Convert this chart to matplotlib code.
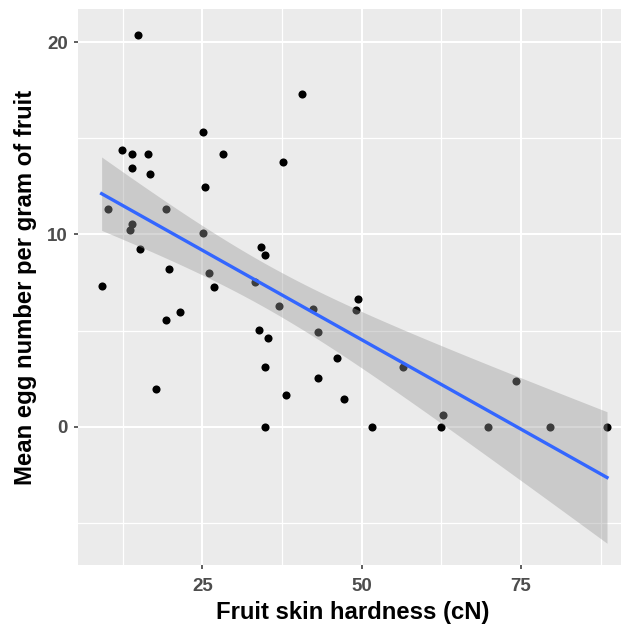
import matplotlib

matplotlib.use("Agg")
import matplotlib.pyplot as plt
import numpy as np
from matplotlib.ticker import FixedLocator

# Fruit skin hardness (cN) and mean egg number per gram of fruit
hardness = [
    14.96, 40.6, 25.06, 12.35, 13.92, 16.53, 28.2, 37.7, 13.92, 16.8,
    25.4, 10.2, 19.3, 13.9, 13.65, 25.06, 15.2, 34.2, 34.9, 19.7,
    26.0, 9.2, 26.9, 33.3, 49.5, 19.3, 21.5, 37.1, 42.3, 49.1,
    43.1, 33.9, 35.3, 34.9, 46.2, 43.1, 38.1, 47.2, 17.7, 34.9,
    51.7, 56.5, 62.4, 62.8, 69.8, 74.2, 79.6, 88.5,
]
eggs = [
    20.38, 17.31, 15.32, 14.40, 14.19, 14.19, 14.19, 13.76, 13.44, 13.13,
    12.49, 11.34, 11.34, 10.55, 10.23, 10.09, 9.23, 9.37, 8.92, 8.22,
    7.98, 7.34, 7.25, 7.55, 6.65, 5.55, 5.98, 6.30, 6.11, 6.09,
    4.94, 5.03, 4.60, 3.12, 3.56, 2.52, 1.65, 1.46, 1.98, 0.0,
    0.0, 3.09, 0.0, 0.61, 0.0, 2.39, 0.0, 0.0,
]

x_major = [25, 50, 75]
x_minor = [12.5, 37.5, 62.5, 87.5]
y_major = [0, 10, 20]
y_minor = [-5, 5, 15]

plt.rcParams["font.family"] = ["Liberation Sans", "DejaVu Sans"]

x = np.asarray(hardness)
y = np.asarray(eggs)

# linear fit with 95% confidence band (like geom_smooth(method = "lm"))
n = len(x)
slope, intercept = np.polyfit(x, y, 1)
resid = y - (intercept + slope * x)
s = np.sqrt(np.sum(resid**2) / (n - 2))
t_crit = 2.013  # t(0.975, df = 46)
xs = np.linspace(x.min(), x.max(), 80)
fit = intercept + slope * xs
se = s * np.sqrt(1 / n + (xs - x.mean()) ** 2 / np.sum((x - x.mean()) ** 2))

fig = plt.figure(figsize=(6.21, 6.28), dpi=100)
ax = fig.add_axes([0.1261, 0.1003, 0.8852, 0.8854])
ax.set_facecolor("#EBEBEB")

ax.scatter(x, y, s=34, color="black", linewidths=0, zorder=3)
ax.fill_between(xs, fit - t_crit * se, fit + t_crit * se,
                color="#999999", alpha=0.4, linewidth=0, zorder=4)
ax.plot(xs, fit, color="#3366FF", linewidth=2.4, zorder=5)

ax.set_xlim(5.54, 91.8)
ax.set_ylim(-7.2, 21.73)
ax.xaxis.set_major_locator(FixedLocator(x_major))
ax.xaxis.set_minor_locator(FixedLocator(x_minor))
ax.yaxis.set_major_locator(FixedLocator(y_major))
ax.yaxis.set_minor_locator(FixedLocator(y_minor))

ax.grid(which="major", color="white", linewidth=1.5, zorder=0)
ax.grid(which="minor", color="white", linewidth=0.9, zorder=0)
ax.set_axisbelow(True)
for sp in ax.spines.values():
    sp.set_visible(False)

ax.tick_params(which="major", length=3, width=1.1, color="#333333",
               labelsize=13.5, labelcolor="#4D4D4D")
ax.tick_params(axis="x", which="major", pad=6.4)
ax.tick_params(axis="y", which="major", pad=4.4)
ax.tick_params(which="minor", length=0)
for lab in ax.get_xticklabels() + ax.get_yticklabels():
    lab.set_fontweight("bold")

ax.set_xlabel("Fruit skin hardness (cN)", fontsize=17.2, fontweight="bold", labelpad=4)
ax.set_ylabel("Mean egg number per gram of fruit", fontsize=17.2, fontweight="bold", labelpad=7.5)

fig.savefig("out.png", dpi=100)
